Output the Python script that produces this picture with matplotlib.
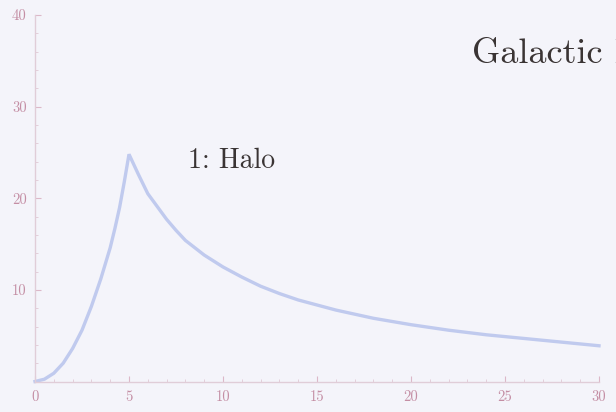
import matplotlib
matplotlib.use("Agg")
import matplotlib.pyplot as plt
from matplotlib.ticker import MultipleLocator

# Data
radius = [0, 0.5, 1, 1.5, 2, 2.5, 3, 3.5, 4, 4.25, 4.5, 4.75, 5,
          5.5, 6, 6.5, 7, 7.5, 8, 9, 10, 11, 12, 13, 14, 16, 18, 20, 22, 24, 26, 28, 30]
velocity = [0, 0.25, 0.9, 2.0, 3.6, 5.6, 8.2, 11.2, 14.6, 16.7, 19.0, 21.8, 24.8,
            22.6, 20.5, 19.1, 17.7, 16.5, 15.4, 13.8, 12.5, 11.4, 10.4, 9.6, 8.9,
            7.8, 6.9, 6.2, 5.6, 5.1, 4.7, 4.3, 3.9]
x_ticks = [0, 5, 10, 15, 20, 25, 30]
y_ticks = [10, 20, 30, 40]
title_text = "Galactic R"
label_text = "1: Halo"

bg = "#f4f4fa"
fig = plt.figure(figsize=(6.16, 4.12), dpi=100, facecolor=bg)
ax = fig.add_axes([35/616, 1-381.5/412, 564/616, 366.5/412], facecolor=bg)

ax.plot(radius, velocity, color="#c0caee", lw=2.4, solid_joinstyle="miter", clip_on=False)

ax.set_xlim(0, 30)
ax.set_ylim(0, 40)
ax.set_xticks(x_ticks)
ax.set_yticks(y_ticks)
ax.xaxis.set_minor_locator(MultipleLocator(1))
ax.yaxis.set_minor_locator(MultipleLocator(2))
for s in ["top", "right"]:
    ax.spines[s].set_visible(False)
for s in ["left", "bottom"]:
    ax.spines[s].set_color("#e0cdd8")
    ax.spines[s].set_linewidth(1.0)
ax.tick_params(which="major", direction="in", length=4, color="#dcb8c8",
               labelsize=10.5, labelcolor="#c48ea4", pad=6)
ax.tick_params(which="minor", direction="in", length=2, color="#e0c8d4")
for lab in ax.get_xticklabels() + ax.get_yticklabels():
    lab.set_fontfamily("cmr10")

fig.text(472/616, 1-63/412, title_text, fontsize=26, family="cmr10",
         color="#3a3434", ha="left", va="baseline")
fig.text(188/616, 1-168/412, label_text, fontsize=20, family="cmr10",
         color="#3a3434", ha="left", va="baseline")

fig.savefig("out.png", dpi=100, facecolor=bg)
